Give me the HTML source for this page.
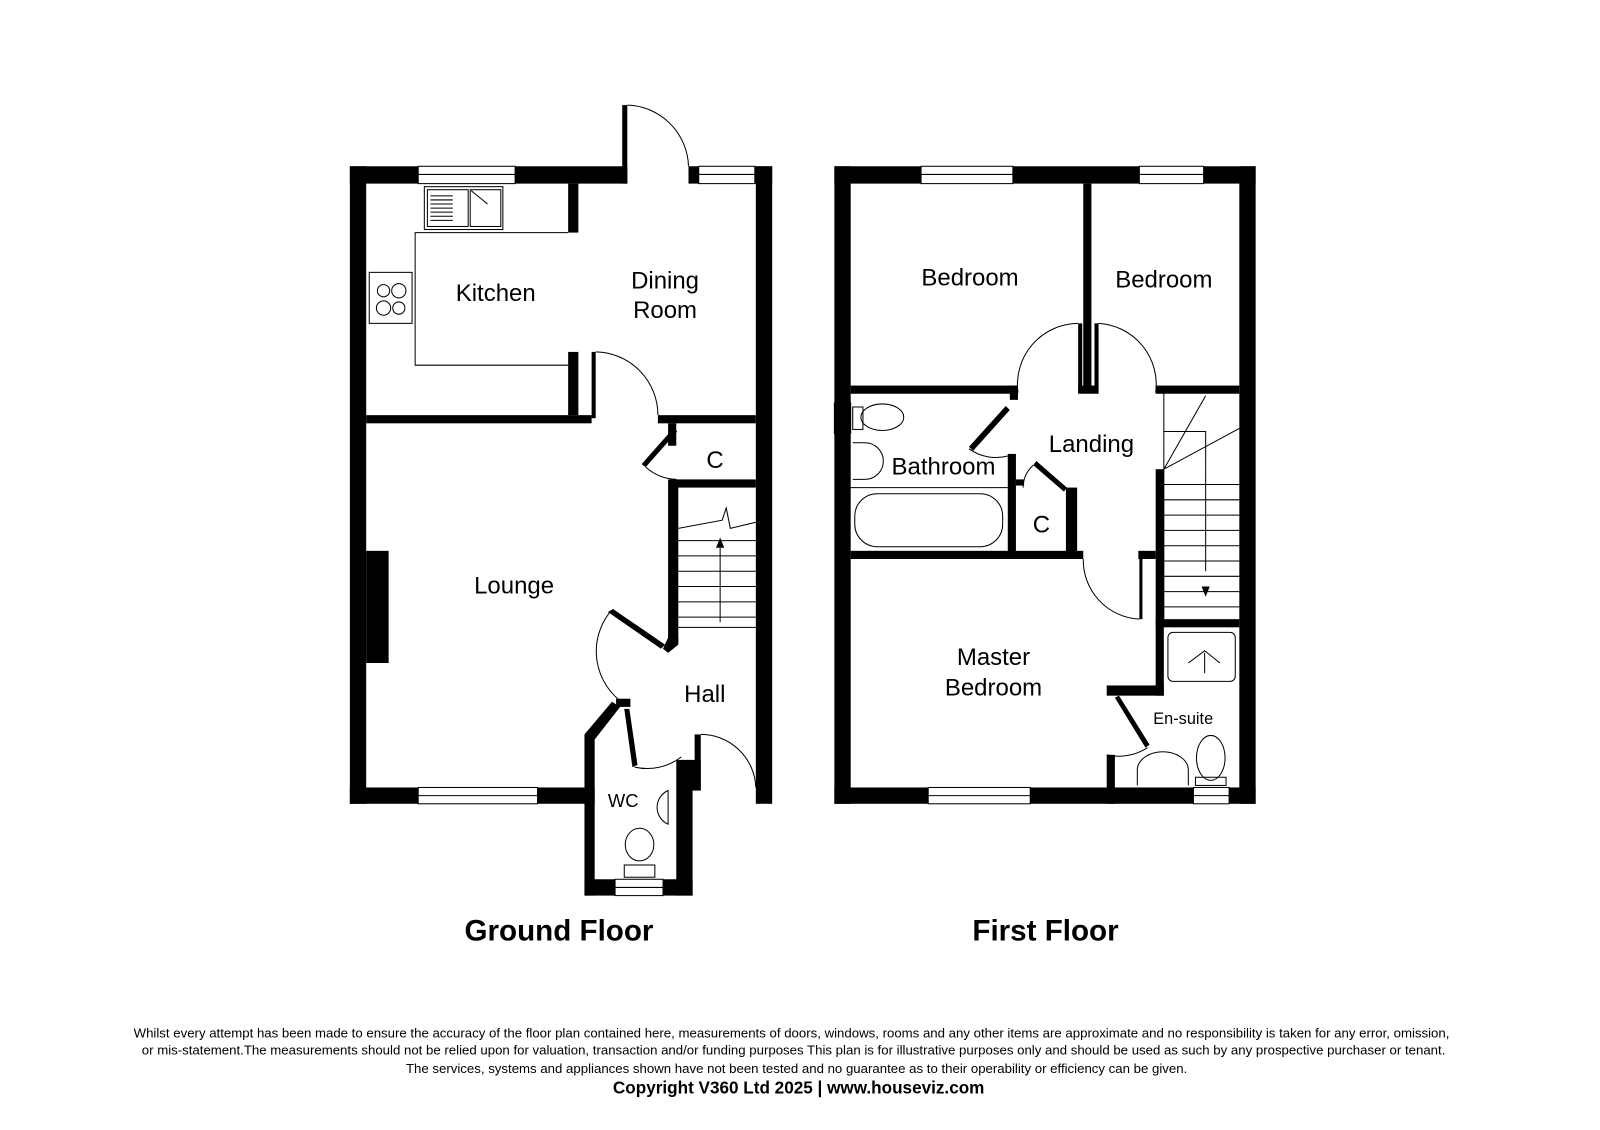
<!DOCTYPE html>
<html><head><meta charset="utf-8"><style>
html,body{margin:0;padding:0;background:#fff;}
svg{display:block;}
text{font-family:"Liberation Sans",Arial,sans-serif;fill:#000;}
</style></head><body>
<svg width="1600" height="1130" viewBox="0 0 1568.6 1107.8" xmlns="http://www.w3.org/2000/svg">
<rect width="1600" height="1130" fill="#fff"/>
<g fill="#000">
<rect x="343" y="163" width="16" height="625"/>
<rect x="343" y="163" width="67" height="17"/>
<rect x="505" y="163" width="110" height="17"/>
<rect x="610" y="103" width="5" height="77"/>
<rect x="675" y="163" width="10" height="17"/>
<rect x="740" y="163" width="17" height="17"/>
<rect x="741" y="163" width="16" height="625"/>
<rect x="343" y="772" width="67" height="16"/>
<rect x="527" y="772" width="56" height="16"/>
<rect x="359" y="407" width="221" height="8"/>
<rect x="645" y="407" width="96" height="8"/>
<rect x="557" y="180" width="10" height="48"/>
<rect x="557" y="345" width="10" height="62"/>
<rect x="580" y="345" width="4" height="65"/>
<rect x="655" y="415" width="8" height="22"/>
<rect x="663" y="470" width="78" height="8"/>
<rect x="655" y="470" width="10" height="160"/>
<polygon points="655,625 665,625 665,632 655,640 650,636"/>
<polygon points="596,600 601,597 652,632 648,636"/>
<rect x="573" y="720" width="10" height="158"/>
<polygon points="573,720 600,688 608,693 583,725"/>
<rect x="573" y="862" width="30" height="16"/>
<rect x="650" y="862" width="29" height="16"/>
<rect x="663" y="745" width="16" height="133"/>
<rect x="668" y="745" width="19" height="30"/>
<rect x="604" y="685" width="14" height="8"/>
<polygon points="612,695 617,695 625,750 620,752"/>
<rect x="681" y="720" width="6" height="55"/>
<polygon points="633,458 629,455 660,420 664,423"/>
<rect x="818" y="163" width="16" height="625"/>
<rect x="818" y="163" width="85" height="17"/>
<rect x="993" y="163" width="124" height="17"/>
<rect x="1180" y="163" width="51" height="17"/>
<rect x="1215" y="163" width="16" height="625"/>
<rect x="818" y="772" width="92" height="16"/>
<rect x="1010" y="772" width="160" height="16"/>
<rect x="1205" y="772" width="26" height="16"/>
<rect x="1062" y="180" width="8" height="205"/>
<rect x="1057" y="317" width="4" height="68"/>
<rect x="1073" y="317" width="4" height="68"/>
<rect x="1057" y="378" width="20" height="8"/>
<rect x="834" y="378" width="164" height="8"/>
<rect x="990" y="378" width="8" height="14"/>
<rect x="1133" y="378" width="82" height="8"/>
<rect x="988" y="445" width="8" height="100"/>
<rect x="996" y="470" width="8" height="6"/>
<rect x="1045" y="478" width="11" height="67"/>
<rect x="834" y="540" width="228" height="8"/>
<rect x="1116" y="540" width="17" height="8"/>
<rect x="1133" y="460" width="8" height="222"/>
<rect x="1133" y="607" width="82" height="8"/>
<rect x="1085" y="672" width="56" height="10"/>
<rect x="1085" y="740" width="8" height="48"/>
<polygon points="950,438 986,398 990,402 954,442"/>
<polygon points="1013,456 1016,452 1046,478 1043,482"/>
<rect x="1117" y="547" width="3" height="60"/>
<polygon points="1093,684 1097,682 1127,730 1123,733"/>
</g>
<g fill="none" stroke="#000" stroke-width="1">
<rect x="410" y="163" width="95" height="17"/><line x1="410" y1="171" x2="505" y2="171"/>
<rect x="685" y="163" width="55" height="17"/><line x1="685" y1="171" x2="740" y2="171"/>
<rect x="410" y="772" width="117" height="16"/><line x1="410" y1="780" x2="527" y2="780"/>
<rect x="603" y="862" width="47" height="16"/><line x1="603" y1="870" x2="650" y2="870"/>
<path d="M615,103 A62,62 0 0 1 675,163"/>
<path d="M584,345 A62,62 0 0 1 645,407"/>
<path d="M633,458 A48,48 0 0 0 663,470"/>
<path d="M598,600 A62,62 0 0 0 612,690"/>
<path d="M622,752 A55,55 0 0 0 668,742"/>
<path d="M687,720 A54,54 0 0 1 741,772"/>
<path d="M557,228 H407 V358 H557"/>
<rect x="416" y="183" width="77" height="42"/>
<rect x="419" y="186" width="40" height="36"/>
<rect x="461" y="186" width="30" height="36"/>
<path d="M422,192 H444 M422,196 H444 M422,200 H444 M422,204 H444 M422,208 H444 M422,212 H444 M422,216 H444"/>
<line x1="462" y1="187" x2="478" y2="200"/>
<rect x="362" y="267" width="42" height="50"/>
<circle cx="376" cy="285" r="6"/><circle cx="391" cy="285" r="7"/>
<circle cx="376" cy="302" r="7"/><circle cx="391" cy="302" r="6"/>
<path d="M665,518 L708,510 L712,498 L716,518 L741,512"/>
<path d="M665,530 H741 M665,545 H741 M665,560 H741 M665,575 H741 M665,590 H741 M665,605 H741 M665,615 H741"/>
<line x1="706" y1="610" x2="706" y2="537"/>
<path d="M655,775 A18,18 0 0 0 655,808 Z"/>
<ellipse cx="627" cy="828" rx="14" ry="16"/>
<rect x="612" y="848" width="30" height="12"/>
<rect x="903" y="163" width="90" height="17"/><line x1="903" y1="171" x2="993" y2="171"/>
<rect x="1117" y="163" width="63" height="17"/><line x1="1117" y1="171" x2="1180" y2="171"/>
<rect x="910" y="772" width="100" height="16"/><line x1="910" y1="780" x2="1010" y2="780"/>
<rect x="1170" y="772" width="35" height="16"/><line x1="1170" y1="780" x2="1205" y2="780"/>
<rect x="818" y="395" width="16" height="30"/>
<path d="M998,385 A60,60 0 0 1 1057,317"/>
<path d="M1077,317 A60,60 0 0 1 1133,385"/>
<path d="M950,440 A45,45 0 0 0 988,447"/>
<path d="M1013,456 A30,30 0 0 0 1003,478"/>
<path d="M1062,548 A58,58 0 0 0 1117,607"/>
<path d="M1125,733 A52,52 0 0 1 1085,740"/>
<path d="M1141,385 V607 M1141,460 L1182,388 M1141,460 L1215,420 M1141,423 H1182 V560"/>
<path d="M1141,475 H1215 M1141,490 H1215 M1141,505 H1215 M1141,520 H1215 M1141,535 H1215 M1141,550 H1215 M1141,565 H1215 M1141,580 H1215 M1141,595 H1215"/>
<ellipse cx="865" cy="409" rx="21" ry="13"/><rect x="836" y="399" width="10" height="22"/>
<path d="M836,434 H848 A18,18 0 0 1 848,470 H836"/>
<line x1="834" y1="478" x2="988" y2="478"/>
<rect x="838" y="484" width="145" height="52" rx="22"/>
<rect x="1145" y="620" width="66" height="48" rx="5"/>
<path d="M1165,650 L1181,638 L1196,650 M1181,640 V660"/>
<path d="M1115,770 V755 A25,18 0 0 1 1165,755 V770"/>
<ellipse cx="1187" cy="743" rx="14" ry="22"/>
<rect x="1172" y="762" width="30" height="8"/>
</g>
<polygon points="702,537 710,537 706,527" fill="#000"/>
<polygon points="1178,575 1186,575 1182,585" fill="#000"/>
<rect x="359" y="540" width="22" height="110" fill="#000"/>
<g font-size="23.5">
<text x="486" y="295" text-anchor="middle">Kitchen</text>
<text x="652" y="283" text-anchor="middle">Dining</text>
<text x="652" y="312" text-anchor="middle">Room</text>
<text x="701" y="459" text-anchor="middle">C</text>
<text x="504" y="582" text-anchor="middle">Lounge</text>
<text x="691" y="688" text-anchor="middle">Hall</text>
<text x="611" y="791" text-anchor="middle" font-size="18">WC</text>
<text x="951" y="280" text-anchor="middle">Bedroom</text>
<text x="1141" y="282" text-anchor="middle">Bedroom</text>
<text x="1070" y="443" text-anchor="middle">Landing</text>
<text x="925" y="465" text-anchor="middle">Bathroom</text>
<text x="1021" y="522" text-anchor="middle">C</text>
<text x="974" y="652" text-anchor="middle">Master</text>
<text x="974" y="682" text-anchor="middle">Bedroom</text>
<text x="1160" y="710" text-anchor="middle" font-size="16">En-suite</text>
</g>
<text x="548" y="922" text-anchor="middle" font-size="29" font-weight="bold">Ground Floor</text>
<text x="1025" y="922" text-anchor="middle" font-size="29" font-weight="bold">First Floor</text>
<g font-size="13" text-anchor="middle">
<text x="776" y="1017" textLength="1290" lengthAdjust="spacingAndGlyphs">Whilst every attempt has been made to ensure the accuracy of the floor plan contained here, measurements of doors, windows, rooms and any other items are approximate and no responsibility is taken for any error, omission,</text>
<text x="778" y="1034" textLength="1278" lengthAdjust="spacingAndGlyphs">or mis-statement.The measurements should not be relied upon for valuation, transaction and/or funding purposes This plan is for illustrative purposes only and should be used as such by any prospective purchaser or tenant.</text>
<text x="781" y="1052" textLength="766" lengthAdjust="spacingAndGlyphs">The services, systems and appliances shown have not been tested and no guarantee as to their operability or efficiency can be given.</text>
<text x="783" y="1072" font-size="16.8" font-weight="bold">Copyright V360 Ltd 2025 | www.houseviz.com</text>
</g>
</svg>
</body></html>
